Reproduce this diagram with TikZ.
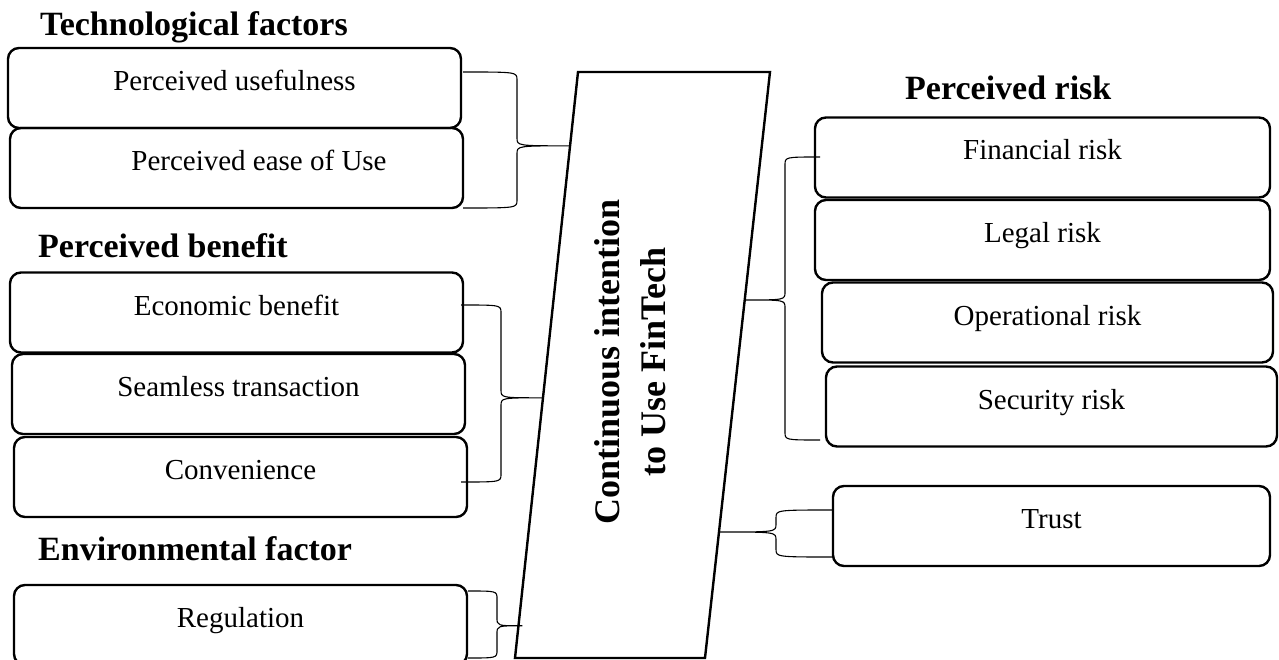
\documentclass[tikz,border=0pt]{standalone}
\usepackage{fontspec}
\setmainfont{Liberation Serif}
\usetikzlibrary{calc}
\tikzset{
	box/.style={draw, line width=2.4pt, rounded corners=11pt, minimum height=80pt, inner sep=0pt,
		text height=20pt, text depth=15pt, font=\fontsize{29}{34}\selectfont},
	head/.style={anchor=base west, inner sep=0pt, font=\fontsize{34}{40}\selectfont\bfseries},
	brace/.style={line width=1.1pt},
}
\newcommand{\Brace}[6]{
	\coordinate (#1a) at (#2,#3);
	\coordinate (#1b) at (#2,#4);
	\coordinate (#1s) at (#5,#3);
	\draw[brace] let \p1=(#1a), \p2=(#1b), \p3=(#6), \p4=(#1s) in
		(\p1) .. controls (\x4,\y1) .. (\x4,\y1-8pt)
		-- (\x4,\y3+8pt) .. controls (\x4,\y3) .. (\p3)
		.. controls (\x4,\y3) .. (\x4,\y3-8pt)
		-- (\x4,\y2+8pt) .. controls (\x4,\y2) .. (\p2);
}

\begin{document}
\begin{tikzpicture}[x=1pt, y=-1pt]
	\useasboundingbox (0,0) rectangle (1279,660);
	\coordinate (pTL) at (578,72);
	\coordinate (pTR) at (770,72);
	\coordinate (pBR) at (705,658);
	\coordinate (pBL) at (515,658);
	\draw[line width=2.4pt] (pTL) -- (pTR) -- (pBR) -- (pBL) -- cycle;
	\node[rotate=90, align=center, font=\fontsize{36}{46}\selectfont\bfseries] (intent) at (630,362)
		{Continuous intention\\to Use FinTech};

	\node[head] (techHead) at (40,36) {Technological factors};
	\node[box, minimum width=453pt] (usef) at (234.5,88) {Perceived usefulness};
	\node[box, minimum width=453pt] (ease) at (236.5,168) {\hspace*{45pt}Perceived ease of Use};

	\node[head] (benHead) at (38,258) {Perceived benefit};
	\node[box, minimum width=453pt] (econ) at (236.5,312.5) {Economic benefit};
	\node[box, minimum width=453pt] (seam) at (238.5,394) {Seamless transaction};
	\node[box, minimum width=453pt] (conv) at (240.5,477) {Convenience};

	\node[head] (envHead) at (38,560) {Environmental factor};
	\node[box, minimum width=453pt] (regu) at (240.5,625) {Regulation};

	\node[head] (riskHead) at (905,100) {Perceived risk};
	\node[box, minimum width=455pt] (fin) at (1042.5,157.5) {Financial risk};
	\node[box, minimum width=455pt] (legal) at (1042.5,240) {Legal risk};
	\node[box, minimum width=451pt] (oper) at (1047.5,322.5) {Operational risk};
	\node[box, minimum width=451pt] (secu) at (1051.5,406.5) {Security risk};
	\node[box, minimum width=437pt] (trust) at (1051.5,526) {Trust};

	\coordinate (tfTip) at ($(pBL)!0.874!(pTL)$);
	\coordinate (pbTip) at ($(pBL)!0.444!(pTL)$);
	\coordinate (efTip) at ($(pBL)!0.055!(pTL)+(4,0)$);
	\coordinate (prTip) at ($(pBR)!0.611!(pTR)$);
	\coordinate (trTip) at ($(pBR)!0.215!(pTR)$);
	\Brace{tf}{463}{72}{208}{517}{tfTip}
	\Brace{pb}{461}{305}{482}{501}{pbTip}
	\Brace{ef}{468}{591}{658}{497}{efTip}
	\Brace{pr}{820}{157}{440}{785}{prTip}
	\Brace{tr}{833}{510}{557}{776}{trTip}
\end{tikzpicture}
\end{document}
